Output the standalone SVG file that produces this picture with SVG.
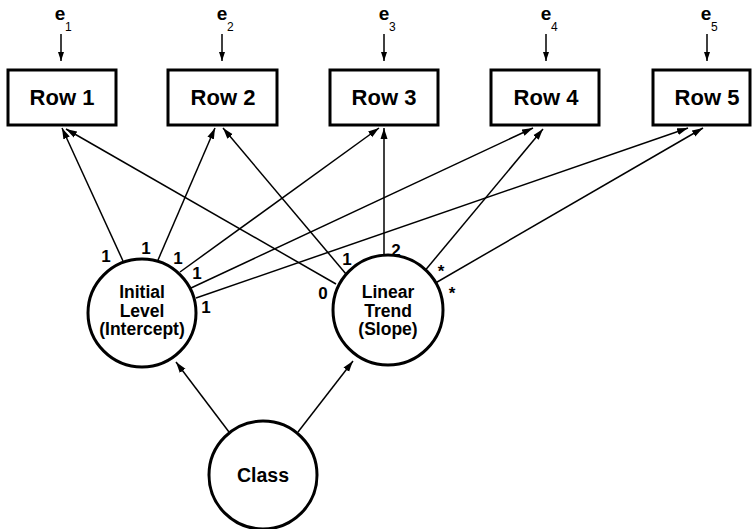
<svg xmlns="http://www.w3.org/2000/svg" width="753" height="529" viewBox="0 0 753 529">
<style>
text{font-family:"Liberation Sans",Arial,sans-serif;fill:#000}
.box{fill:#fff;stroke:#000;stroke-width:3}
.circ{fill:#fff;stroke:#000;stroke-width:3}
.lbl{font-size:22px;font-weight:bold;text-anchor:middle}
.ctx{font-size:17.5px;font-weight:bold;text-anchor:middle}
.num{font-size:17px;font-weight:bold;text-anchor:middle}
.e{font-size:19px;font-weight:bold;text-anchor:middle}
.sub{font-size:12px;text-anchor:start}
.con line{stroke:#000;stroke-width:1.5;marker-end:url(#ah)}
.err line{stroke:#000;stroke-width:1.5;marker-end:url(#ahs)}
</style>
<defs>
<marker id="ah" markerUnits="userSpaceOnUse" markerWidth="12" markerHeight="8" refX="11" refY="4" orient="auto">
<path d="M0,0.5 L11,4 L0,7.5 z" fill="#000"/>
</marker>
<marker id="ahs" markerUnits="userSpaceOnUse" markerWidth="10" markerHeight="8" refX="9" refY="3.5" orient="auto">
<path d="M0,0.5 L9,3.5 L0,6.5 z" fill="#000"/>
</marker>
</defs>
<rect width="753" height="529" fill="#fff"/>

<g id="connectors" class="con">
<line x1="123" y1="261" x2="62" y2="128"/>
<line x1="158" y1="260" x2="215" y2="128"/>
<line x1="180" y1="272" x2="379" y2="128"/>
<line x1="191" y1="288" x2="533" y2="128"/>
<line x1="196" y1="298" x2="688" y2="128"/>
<line x1="336" y1="284" x2="66" y2="129"/>
<line x1="346" y1="274" x2="223" y2="128"/>
<line x1="384" y1="256" x2="384" y2="128"/>
<line x1="423" y1="273" x2="543" y2="129"/>
<line x1="432" y1="285" x2="703" y2="128"/>
<line x1="229" y1="432" x2="176" y2="362"/>
<line x1="298" y1="432" x2="353" y2="361"/>
</g>
<g id="error-connectors" class="err">
<line x1="61" y1="34" x2="61" y2="61"/>
<line x1="222" y1="34" x2="222" y2="61"/>
<line x1="384" y1="34" x2="384" y2="61"/>
<line x1="546" y1="34" x2="546" y2="61"/>
<line x1="707" y1="34" x2="707" y2="61"/>
</g>

<g id="e1"><text class="e" x="60" y="20">e</text><text class="sub" x="65" y="31">1</text></g>
<g id="e2"><text class="e" x="222" y="20">e</text><text class="sub" x="227" y="31">2</text></g>
<g id="e3"><text class="e" x="384" y="20">e</text><text class="sub" x="389" y="31">3</text></g>
<g id="e4"><text class="e" x="546" y="20">e</text><text class="sub" x="551" y="31">4</text></g>
<g id="e5"><text class="e" x="706" y="20">e</text><text class="sub" x="711" y="31">5</text></g>

<g id="row1"><rect class="box" x="8" y="70" width="108" height="55"/><text class="lbl" x="62" y="105">Row 1</text></g>
<g id="row2"><rect class="box" x="168" y="70" width="109" height="55"/><text class="lbl" x="223" y="105">Row 2</text></g>
<g id="row3"><rect class="box" x="330" y="70" width="108" height="55"/><text class="lbl" x="384" y="105">Row 3</text></g>
<g id="row4"><rect class="box" x="491" y="70" width="108" height="55"/><text class="lbl" x="546" y="105">Row 4</text></g>
<g id="row5"><rect class="box" x="653" y="70" width="97" height="55"/><text class="lbl" x="707" y="105">Row 5</text></g>

<g id="intercept">
<circle class="circ" cx="142" cy="313" r="54"/>
<text class="ctx" x="142" y="298">Initial</text>
<text class="ctx" x="142" y="316.5">Level</text>
<text class="ctx" x="142" y="335">(Intercept)</text>
</g>
<g id="slope">
<circle class="circ" cx="388" cy="310" r="55"/>
<text class="ctx" x="388" y="298">Linear</text>
<text class="ctx" x="388" y="316.5">Trend</text>
<text class="ctx" x="388" y="335">(Slope)</text>
</g>
<g id="class">
<circle class="circ" cx="263" cy="475" r="54"/>
<text class="ctx" x="263" y="482" style="font-size:19.5px">Class</text>
</g>

<g id="loadings">
<text class="num" x="106" y="262">1</text>
<text class="num" x="146" y="254">1</text>
<text class="num" x="178" y="264">1</text>
<text class="num" x="197" y="279">1</text>
<text class="num" x="206" y="313">1</text>
<text class="num" x="323" y="299">0</text>
<text class="num" x="347" y="265">1</text>
<text class="num" x="396" y="256">2</text>
<text class="num" x="441" y="277">*</text>
<text class="num" x="452" y="299">*</text>
</g>
</svg>
